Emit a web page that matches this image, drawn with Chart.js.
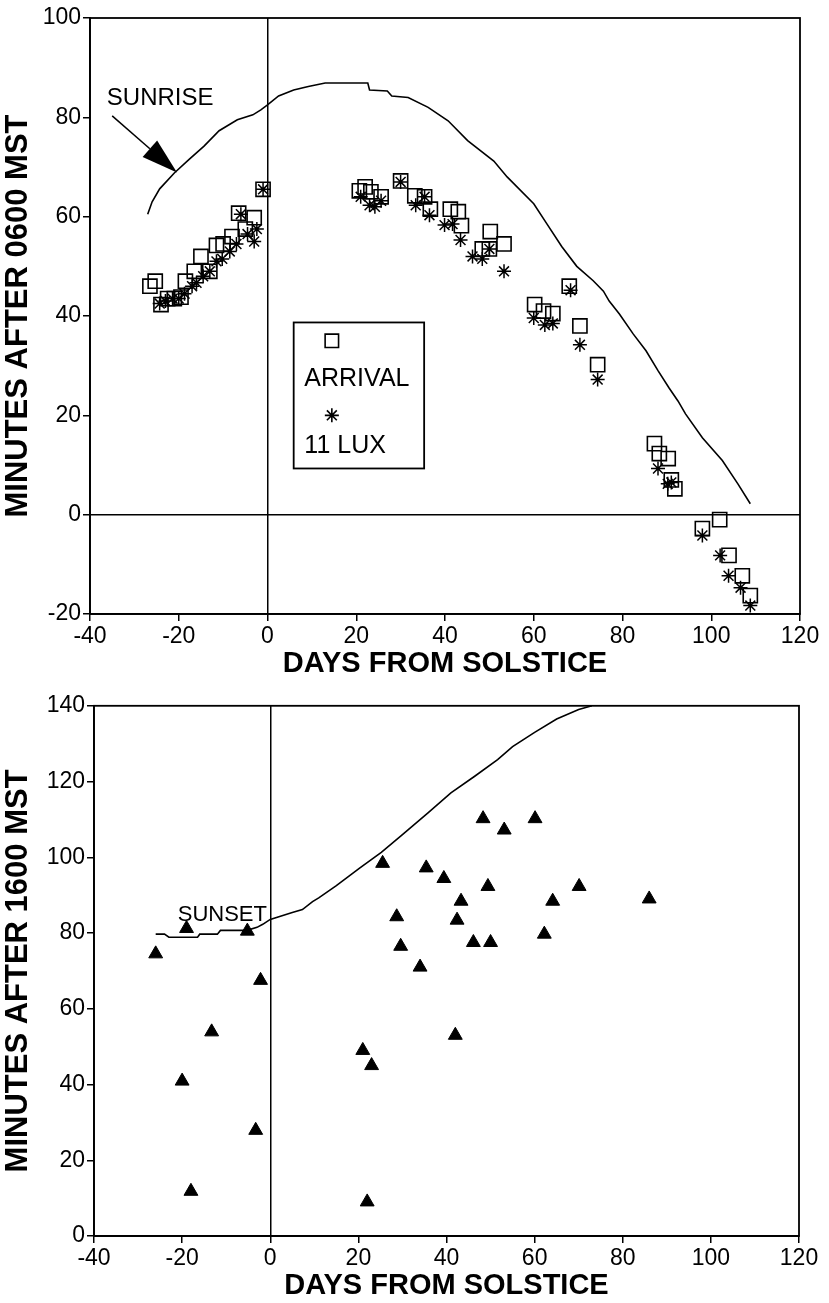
<!DOCTYPE html>
<html>
<head>
<meta charset="utf-8">
<title>Arrival and departure times vs days from solstice</title>
<script src="https://cdn.jsdelivr.net/npm/chart.js@4.4.1/dist/chart.umd.min.js"></script>
<style>
    body { margin: 0; background: #fff; }
    .panel { position: absolute; left: 0; }
    #morning-panel { top: 0; }
    #evening-panel { top: 690px; }
</style>
</head>
<body>
<div class="panel" id="morning-panel"><canvas id="morning" width="829" height="690"></canvas></div>
<div class="panel" id="evening-panel"><canvas id="evening" width="829" height="613"></canvas></div>
<script>
// morning panel (minutes after 0600 MST)
const sunriseDays = [-27, -26, -24.3, -21, -17.6, -14.3, -10.9, -6.8, -3.3, -1.5, 0, 2.5, 5.9, 9.2, 13, 22.6, 23, 27, 28, 31.7, 36.2, 40.7, 45.1, 51, 54, 60, 63, 66.3, 69.7, 73.4, 75.7, 77, 79.3, 82.4, 85.3, 88, 90.5, 92.5, 94.2, 98, 102.5, 106, 108.8];
const sunriseMinutes = [60.5, 63, 65.6, 68.8, 71.6, 74.2, 77.3, 79.5, 80.5, 81.5, 82.5, 84.3, 85.5, 86.2, 86.9, 86.9, 85.5, 85.3, 84.3, 84, 82, 79.3, 75.3, 71.2, 68, 62.6, 58.5, 54, 50, 47.1, 45, 43, 40.4, 36.4, 33, 29, 25.5, 22.9, 20.3, 15.5, 10.9, 6.2, 2.2];

const arrivalDays = [-26.5, -25.3, -24, -22.5, -21, -19.5, -18.5, -16.5, -15, -13, -11.5, -10, -8, -6.5, -5, -3, -1,
    20.7, 22, 23.3, 25.6, 30, 33.2, 35.4, 36.7, 41.2, 43, 43.7, 48.4, 50, 50.2, 53.3,
    60.2, 62.2, 64.3, 68, 70.4, 74.4,
    87.2, 88.3, 90.3, 91, 91.8, 98, 101.9, 104, 107, 108.8];
const arrivalMinutes = [46, 47, 42.3, 43.5, 43.5, 43.8, 47, 49, 52, 49, 54.2, 54.5, 56, 60.7, 57.5, 59.8, 65.5,
    65.2, 66, 65, 64, 67.2, 64.2, 64, 61.5, 61.5, 61, 58.2, 53.5, 53.5, 57, 54.5,
    42.3, 41, 40.5, 46, 38, 30.2,
    14.3, 12.3, 11.3, 7, 5.2, -2.8, -1, -8.2, -12.3, -16.3];

const luxDays = [-24.3, -23, -21.4, -20, -18.7, -17, -16, -14.5, -13, -11.5, -10.2, -8.5, -7, -6, -4.5, -3, -2.4, -1,
    21, 23, 24.2, 25.6, 30, 33.4, 35.4, 36.5, 39.9, 41.7, 43.5, 46.2, 48.4, 50, 53.3,
    60, 62.5, 64.3, 68.3, 70.4, 74.4,
    88, 90.2, 91, 98, 102, 103.9, 106.6, 108.8];
const luxMinutes = [42.5, 43, 43.5, 43.5, 44.5, 46, 46.7, 48, 49, 51, 51.5, 53, 54.5, 60.5, 56.5, 55, 57.5, 65.5,
    64, 62.3, 62, 63.2, 67, 62.3, 64, 60.3, 58.3, 58.5, 55.3, 52, 51.5, 53.5, 49,
    39.6, 38.2, 38.5, 45.2, 34.2, 27.2,
    9.3, 6.2, 6.5, -4.2, -8.2, -12.3, -14.7, -18.3];

// evening panel (minutes after 1600 MST)
const sunsetDays = [-26, -24, -23, -16.5, -16, -12, -11.3, -5.3, -3, -1.7, 0, 5, 7.3, 9.6, 11, 15, 20.2, 25.2, 30, 35.8, 41, 46.4, 51.6, 55, 60, 65, 70, 73];
const sunsetMinutes = [79.7, 79.7, 78.9, 78.9, 79.7, 79.7, 80.7, 80.7, 81.5, 82.3, 83.6, 85.4, 86.2, 88.3, 89.3, 92.5, 97.1, 101.3, 106, 111.7, 117, 121.4, 125.8, 129.2, 133, 136.5, 139, 140];

const departureDays = [-26, -19, -20, -18, -13.3, -5.2, -3.3, -2.2,
    21, 22, 23, 25.5, 28.7, 29.6, 34, 35.4, 39.4, 42.4, 42, 43.3, 46.1, 48.3, 49.4, 50, 53.1, 60.1, 62.2, 64.1, 70.1, 86];
const departureMinutes = [74.5, 81.2, 40.9, 11.8, 53.9, 80.5, 27.9, 67.5,
    49, 9, 45, 98.4, 84.3, 76.5, 71, 97.2, 94.4, 83.4, 53, 88.4, 77.5, 110.2, 92.3, 77.5, 107.2, 110.2, 79.7, 88.4, 92.3, 89];

const dayTicks = [-40, -20, 0, 20, 40, 60, 80, 100, 120];
const morningTicks = [-20, 0, 20, 40, 60, 80, 100];
const eveningTicks = [0, 20, 40, 60, 80, 100, 120, 140];

const FONT = "'Liberation Sans', Arial, sans-serif";

function points(xs, ys) {
    return xs.map((x, i) => ({ x: x, y: ys[i] }));
}

function zeroGrid(ctx) {
    return ctx.tick && ctx.tick.value === 0 ? '#000' : 'rgba(0,0,0,0)';
}

function axis(ticks, title, titleSize, fit, titlePad) {
    return {
        type: 'linear',
        min: ticks[0],
        max: ticks[ticks.length - 1],
        afterBuildTicks: scale => { scale.ticks = ticks.map(v => ({ value: v })); },
        ticks: { color: '#000', font: { family: FONT, size: 23 }, padding: 2, maxRotation: 0, autoSkip: false },
        grid: { color: zeroGrid, lineWidth: 1.5, tickColor: '#000', tickLength: 7, tickWidth: 1.5 },
        border: { display: true, color: '#000', width: 1.8 },
        title: { display: true, text: title, color: '#000', font: { family: FONT, size: titleSize, weight: 'bold' }, padding: titlePad },
        afterFit: fit
    };
}

// box around the plot area
const framePlugin = {
    id: 'frame',
    afterDatasetsDraw(chart) {
        const a = chart.chartArea, ctx = chart.ctx;
        ctx.save();
        ctx.strokeStyle = '#000';
        ctx.lineWidth = 1.8;
        ctx.strokeRect(a.left, a.top, a.right - a.left, a.bottom - a.top);
        ctx.restore();
    }
};

// morning notes: SUNRISE label + arrow, legend box
const morningNotes = {
    id: 'morningNotes',
    afterDatasetsDraw(chart) {
        const ctx = chart.ctx, x = chart.scales.x, y = chart.scales.y;
        const px = d => x.getPixelForValue(d), py = v => y.getPixelForValue(v);
        ctx.save();
        ctx.fillStyle = '#000';
        ctx.strokeStyle = '#000';
        ctx.font = '24px ' + FONT;
        ctx.textBaseline = 'middle';
        ctx.fillText('SUNRISE', px(-36.2), py(83.8));

        // arrow
        const x0 = px(-35), y0 = py(80.3), x1 = px(-20.4), y1 = py(68.9);
        const ang = Math.atan2(y1 - y0, x1 - x0), len = 36, half = 11;
        const bx = x1 - len * Math.cos(ang), by = y1 - len * Math.sin(ang);
        ctx.lineWidth = 1.5;
        ctx.beginPath();
        ctx.moveTo(x0, y0);
        ctx.lineTo(bx, by);
        ctx.stroke();
        ctx.beginPath();
        ctx.moveTo(x1, y1);
        ctx.lineTo(bx + half * Math.sin(ang), by - half * Math.cos(ang));
        ctx.lineTo(bx - half * Math.sin(ang), by + half * Math.cos(ang));
        ctx.closePath();
        ctx.fill();

        // legend box
        ctx.lineWidth = 1.8;
        ctx.strokeRect(px(5.9), py(38.7), px(35.3) - px(5.9), py(9.3) - py(38.7));
        ctx.fillStyle = 'rgba(0,0,0,0)';
        ctx.lineWidth = 1.6;
        Chart.helpers.drawPoint(ctx, { pointStyle: 'rect', radius: 9.5, borderWidth: 1.6 }, px(14.5), py(35));
        Chart.helpers.drawPoint(ctx, { pointStyle: 'star', radius: 7, borderWidth: 1.5 }, px(14.5), py(20));
        ctx.fillStyle = '#000';
        ctx.font = '25px ' + FONT;
        ctx.fillText('ARRIVAL', px(8.3), py(27.3));
        ctx.fillText('11 LUX', px(8.3), py(13.8));
        ctx.restore();
    }
};

const eveningNotes = {
    id: 'eveningNotes',
    afterDatasetsDraw(chart) {
        const ctx = chart.ctx, x = chart.scales.x, y = chart.scales.y;
        ctx.save();
        ctx.fillStyle = '#000';
        ctx.font = '22px ' + FONT;
        ctx.textBaseline = 'middle';
        ctx.fillText('SUNSET', x.getPixelForValue(-21), y.getPixelForValue(84.8));
        ctx.restore();
    }
};

new Chart(document.getElementById('morning'), {
    type: 'scatter',
    data: {
        datasets: [{
            label: 'SUNRISE',
            data: points(sunriseDays, sunriseMinutes),
            showLine: true,
            borderColor: '#000',
            borderWidth: 1.6,
            pointRadius: 0,
            fill: false
        }, {
            label: 'ARRIVAL',
            data: points(arrivalDays, arrivalMinutes),
            pointStyle: 'rect',
            pointRadius: 10,
            borderColor: '#000',
            backgroundColor: 'rgba(0,0,0,0)',
            borderWidth: 1.6
        }, {
            label: '11 LUX',
            data: points(luxDays, luxMinutes),
            pointStyle: 'star',
            pointRadius: 7,
            borderColor: '#000',
            borderWidth: 1.5
        }]
    },
    options: {
        responsive: false,
        animation: false,
        layout: { padding: { top: 18, right: 29, bottom: 0, left: 0 } },
        plugins: { legend: { display: false }, tooltip: { enabled: false } },
        scales: {
            x: axis(dayTicks, 'DAYS FROM SOLSTICE', 29, s => { s.height = 76; }, { top: 0, bottom: 9 }),
            y: axis(morningTicks, 'MINUTES AFTER 0600 MST', 31, s => { s.width = 90; }, { top: 0, bottom: 7 })
        }
    },
    plugins: [framePlugin, morningNotes]
});

new Chart(document.getElementById('evening'), {
    type: 'scatter',
    data: {
        datasets: [{
            label: 'SUNSET',
            data: points(sunsetDays, sunsetMinutes),
            showLine: true,
            borderColor: '#000',
            borderWidth: 1.6,
            pointRadius: 0,
            fill: false
        }, {
            label: 'DEPARTURE',
            data: points(departureDays, departureMinutes),
            pointStyle: 'triangle',
            pointRadius: 8,
            borderColor: '#000',
            backgroundColor: '#000',
            borderWidth: 1
        }]
    },
    options: {
        responsive: false,
        animation: false,
        layout: { padding: { top: 8, right: 30, bottom: 0, left: 0 } },
        plugins: { legend: { display: false }, tooltip: { enabled: false } },
        scales: {
            x: axis(dayTicks, 'DAYS FROM SOLSTICE', 29, s => { s.height = 67; }, { top: 0, bottom: 0 }),
            y: axis(eveningTicks, 'MINUTES AFTER 1600 MST', 31, s => { s.width = 94; }, { top: 0, bottom: 7 })
        }
    },
    plugins: [framePlugin, eveningNotes]
});
</script>
</body>
</html>
